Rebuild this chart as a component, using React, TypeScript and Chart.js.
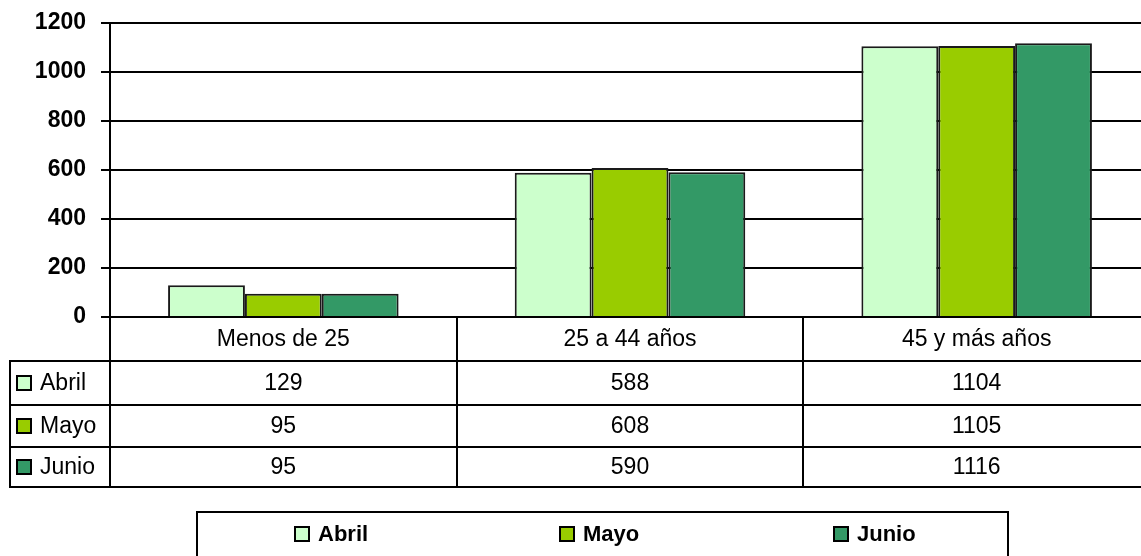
import React, { useEffect, useRef } from 'react';
import { Chart, registerables } from 'chart.js';

Chart.register(...registerables);

const categories = ['Menos de 25', '25 a 44 años', '45 y más años'];
const seriesNames = ['Abril', 'Mayo', 'Junio'];
const abril = [129, 588, 1104];
const mayo = [95, 608, 1105];
const junio = [95, 590, 1116];
const seriesColors = ['#CCFFCC', '#99CC00', '#339966'];
const yMin = 0;
const yMax = 1200;
const yStep = 200;

const FONT = 'Arial, "Liberation Sans", Helvetica, sans-serif';

const tablePlugin = {
  id: 'dataTable',
  afterDraw(chart: any) {
    const ctx = chart.ctx as CanvasRenderingContext2D;
    const area = chart.chartArea;
    const labels = chart.data.labels as string[];
    const n = labels.length;
    const band = (area.right - area.left) / n;
    const top = area.bottom;
    const rowLines = [361, 405, 447, 487];
    const tableLeft = 10;
    const W = chart.width;
    const xs = chart.scales.x;

    ctx.save();
    ctx.strokeStyle = '#000';
    ctx.lineWidth = 2;
    ctx.beginPath();
    for (const y of rowLines) {
      ctx.moveTo(tableLeft, y);
      ctx.lineTo(W, y);
    }
    ctx.moveTo(tableLeft, rowLines[0] - 1);
    ctx.lineTo(tableLeft, rowLines[3] + 1);
    ctx.moveTo(area.left, top);
    ctx.lineTo(area.left, rowLines[3] + 1);
    for (let i = 1; i <= n; i++) {
      const x = Math.round(area.left + band * i);
      ctx.moveTo(x, top);
      ctx.lineTo(x, rowLines[3] + 1);
    }
    ctx.stroke();

    // category labels
    ctx.fillStyle = '#000';
    ctx.font = `23px ${FONT}`;
    ctx.textAlign = 'center';
    ctx.textBaseline = 'middle';
    labels.forEach((lab, i) => {
      ctx.fillText(lab, xs.getPixelForValue(i), (top + rowLines[0]) / 2 + 1);
    });

    // values & row headers
    chart.data.datasets.forEach((ds: any, r: number) => {
      const yc = (rowLines[r] + rowLines[r + 1]) / 2 + 1;
      ctx.font = `23px ${FONT}`;
      ctx.textAlign = 'center';
      ctx.fillStyle = '#000';
      (ds.data as number[]).forEach((v, i) => {
        ctx.fillText(String(v), xs.getPixelForValue(i), yc);
      });
      // key square
      ctx.fillStyle = ds.backgroundColor;
      ctx.fillRect(17, Math.round(yc - 8), 14, 14);
      ctx.lineWidth = 2;
      ctx.strokeStyle = '#000';
      ctx.strokeRect(17, Math.round(yc - 8), 14, 14);
      ctx.fillStyle = '#000';
      ctx.textAlign = 'left';
      ctx.fillText(ds.label, 40, yc);
    });

    // legend box
    ctx.lineWidth = 2;
    ctx.strokeStyle = '#000';
    ctx.strokeRect(197, 512, 1008 - 197, 100);
    const legendX = [295, 560, 834];
    ctx.font = `bold 22px ${FONT}`;
    ctx.textAlign = 'left';
    ctx.textBaseline = 'middle';
    chart.data.datasets.forEach((ds: any, i: number) => {
      const x = legendX[i];
      ctx.fillStyle = ds.backgroundColor;
      ctx.fillRect(x, 527, 14, 14);
      ctx.lineWidth = 2;
      ctx.strokeStyle = '#000';
      ctx.strokeRect(x, 527, 14, 14);
      ctx.fillStyle = '#000';
      ctx.fillText(ds.label, x + 23, 535);
    });
    ctx.restore();
  },
};

export default function App() {
  const ref = useRef<HTMLCanvasElement>(null);

  useEffect(() => {
    if (!ref.current) return;
    const seriesData = [abril, mayo, junio];
    const chart = new Chart(ref.current, {
      type: 'bar',
      data: {
        labels: categories,
        datasets: seriesNames.map((name, i) => ({
          label: name,
          data: seriesData[i],
          backgroundColor: seriesColors[i],
          borderColor: '#1a1a1a',
          borderWidth: 2,
          categoryPercentage: 0.665,
          barPercentage: 1,
        })),
      },
      options: {
        responsive: false,
        animation: false,
        layout: { padding: { top: 17, bottom: 239, left: 0, right: 0 } },
        plugins: {
          legend: { display: false },
          tooltip: { enabled: false },
          title: { display: false },
        },
        scales: {
          x: { display: false },
          y: {
            min: yMin,
            max: yMax,
            ticks: {
              stepSize: yStep,
              padding: 15,
              color: '#000',
              font: { family: FONT, size: 23, weight: 'bold', lineHeight: 0.67 },
              callback: (v: any) => String(v),
            },
            grid: { color: '#000', lineWidth: 2, tickLength: 9, drawTicks: true },
            border: { display: true, color: '#000', width: 2 },
            afterFit: (scale: any) => {
              scale.width = 110;
            },
          },
        },
      },
      plugins: [tablePlugin],
    } as any);
    return () => chart.destroy();
  }, []);

  return (
    <div
      style={{
        position: 'fixed',
        left: 0,
        top: 0,
        width: 1141,
        height: 556,
        overflow: 'hidden',
        background: '#fff',
      }}
    >
      <canvas ref={ref} width={1150} height={556} style={{ display: 'block' }} />
    </div>
  );
}
